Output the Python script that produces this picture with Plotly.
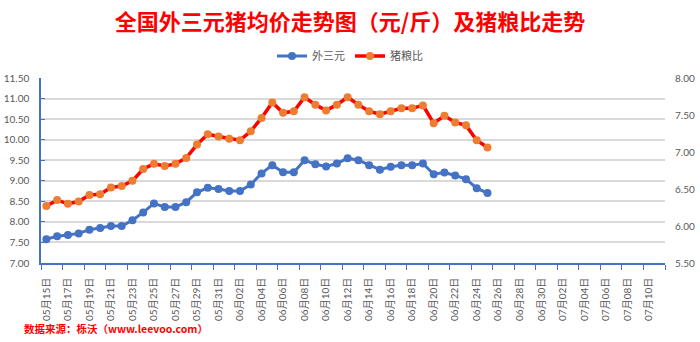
import pandas as pd
import plotly.graph_objects as go

# Dates on the category axis (one per day)
all_dates = pd.date_range("2024-05-15", "2024-07-11", freq="D")
date_labels = [d.strftime("%m月%d日") for d in all_dates]

# 外三元 average price (元/斤), daily from 05月15日
price_wsy = [7.58, 7.65, 7.68, 7.72, 7.81, 7.85, 7.90, 7.90, 8.04, 8.23,
             8.45, 8.36, 8.36, 8.48, 8.72, 8.83, 8.80, 8.75, 8.75, 8.91,
             9.18, 9.38, 9.21, 9.21, 9.50, 9.40, 9.35, 9.42, 9.55, 9.50,
             9.38, 9.27, 9.34, 9.38, 9.38, 9.42, 9.16, 9.20, 9.13, 9.04,
             8.82, 8.70]

# 猪粮比 (pig-grain ratio), daily from 05月15日
ratio_pg = [6.27, 6.35, 6.30, 6.33, 6.42, 6.43, 6.52, 6.54, 6.61, 6.77,
            6.84, 6.81, 6.84, 6.92, 7.10, 7.24, 7.21, 7.18, 7.16, 7.28,
            7.46, 7.67, 7.53, 7.55, 7.74, 7.64, 7.56, 7.64, 7.74, 7.64,
            7.55, 7.51, 7.55, 7.59, 7.59, 7.63, 7.39, 7.49, 7.40, 7.36,
            7.16, 7.06]

left_ticks = [7.0, 7.5, 8.0, 8.5, 9.0, 9.5, 10.0, 10.5, 11.0, 11.5]
right_ticks = [5.5, 6.0, 6.5, 7.0, 7.5, 8.0]

x_wsy = list(range(len(price_wsy)))
x_pg = list(range(len(ratio_pg)))
tick_idx = list(range(0, len(date_labels), 2))

BLUE = "#4472C4"
RED = "#FF0000"
ORANGE = "#ED7D31"
GRAY = "#595959"
FONT = "Lato, Noto Sans CJK SC, sans-serif"

fig = go.Figure()
fig.add_trace(go.Scatter(
    x=x_wsy, y=price_wsy, name="外三元", mode="lines+markers",
    line=dict(color=BLUE, width=3),
    marker=dict(color=BLUE, size=8), yaxis="y"))
fig.add_trace(go.Scatter(
    x=x_pg, y=ratio_pg, name="猪粮比", mode="lines+markers",
    line=dict(color=RED, width=3.5),
    marker=dict(color=ORANGE, size=8), yaxis="y2"))

fig.update_layout(
    width=700, height=342,
    margin=dict(l=41, r=35, t=78, b=79, autoexpand=False),
    paper_bgcolor="white", plot_bgcolor="white",
    font=dict(family=FONT, color=GRAY, size=11),
    title=dict(text="<b>全国外三元猪均价走势图（元/斤）及猪粮比走势</b>",
               x=0.5, xanchor="center", y=1 - 22 / 342, yanchor="middle",
               font=dict(family="Noto Sans CJK SC", size=22, color=RED)),
    legend=dict(orientation="h", x=0.5, xanchor="center", xref="container",
                y=1 - 56 / 342, yref="container", yanchor="middle",
                font=dict(size=11, color=GRAY, family=FONT),
                itemwidth=30, bgcolor="rgba(0,0,0,0)"),
    xaxis=dict(
        range=[-0.5, len(date_labels) - 0.5],
        tickmode="array", tickvals=tick_idx,
        ticktext=[date_labels[i] for i in tick_idx],
        tickangle=-90, ticks="", ticklabelstandoff=9,
        tickfont=dict(size=10, color=GRAY, family=FONT),
        showline=True, linecolor=BLUE, linewidth=1.5, mirror=False,
        showgrid=False, zeroline=False,
        minor=dict(tick0=-0.5, dtick=2, ticks="outside", ticklen=5,
                   tickcolor=BLUE, tickwidth=1, showgrid=False),
    ),
    yaxis=dict(
        range=[left_ticks[0], left_ticks[-1]],
        tickmode="array", tickvals=left_ticks,
        tickformat=".2f", ticks="inside", ticklen=4, tickcolor=BLUE,
        ticklabelstandoff=8,
        tickfont=dict(size=10, color=GRAY, family=FONT),
        showline=True, linecolor=BLUE, linewidth=1.5, mirror=False,
        showgrid=True, gridcolor="#D9D9D9", gridwidth=1.5, zeroline=False,
    ),
    yaxis2=dict(
        range=[right_ticks[0], right_ticks[-1]],
        tickmode="array", tickvals=right_ticks,
        tickformat=".2f", ticks="", ticklabelstandoff=9,
        tickfont=dict(size=10, color=GRAY, family=FONT),
        overlaying="y", side="right", showline=False,
        linecolor="rgba(0,0,0,0)", linewidth=0,
        showgrid=False, zeroline=False,
    ),
)

fig.add_annotation(
    text="<b>数据来源：栎沃（www.leevoo.com）</b>",
    xref="paper", yref="paper", x=-19 / 624, y=-(328 - 263) / 185,
    xanchor="left", yanchor="middle", showarrow=False,
    font=dict(family="Noto Sans CJK SC", size=10.5, color=RED))

fig.write_html("out.html")
